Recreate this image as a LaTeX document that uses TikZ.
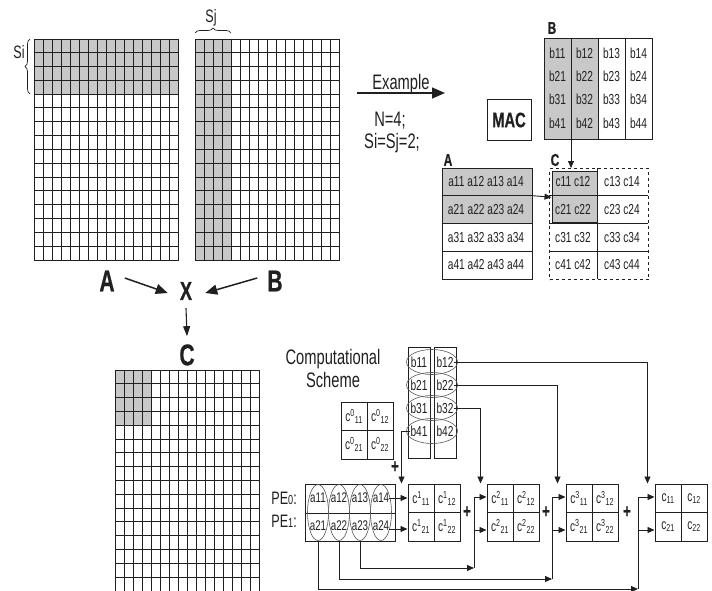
\documentclass[tikz,border=0pt]{standalone}
\usepackage{fontspec}
\setmainfont{Liberation Sans}[FakeStretch=0.7,BoldFeatures={FakeBold=0.6}]
\usetikzlibrary{arrows.meta,positioning,shapes.geometric,decorations.pathreplacing,calc}
\definecolor{ink}{HTML}{202020}
\definecolor{cellgray}{HTML}{C8C8C8}
\newcommand\fs[1]{\fontsize{#1}{#1}\selectfont}
\newcommand\cel[2]{c\textsuperscript{#1}\textsubscript{#2}}
\tikzset{
  cell/.style={draw=ink,line width=1pt,inner sep=0pt},
  gline/.style={ink,line width=1pt},
  big/.style={font=\fs{30}\bfseries,text=ink,inner sep=0pt},
  tag/.style={font=\fs{17}\bfseries,text=ink,inner sep=0pt},
  txt/.style={font=\fontsize{21}{23}\selectfont,text=ink,inner sep=0pt},
  ent/.style={font=\fs{14.5},text=ink,inner sep=0pt},
  sml/.style={font=\fs{14},text=ink,inner sep=0pt},
  fatarr/.style={-{Triangle[length=12pt,width=10pt]},line width=1.5pt,ink},
  arr/.style={-{Triangle[length=7pt,width=6pt]},line width=0.9pt,ink},
  oval/.style={ellipse,draw=ink!75,line width=0.6pt,inner sep=0pt},
  plus/.style={font=\fs{19}\bfseries,text=ink,inner sep=0pt},
  brc/.style={ink,line width=0.7pt,decorate,decoration={brace,amplitude=5pt}}
}
\begin{document}
\begin{tikzpicture}[x=1pt,y=-1pt]
  \useasboundingbox (0,0) rectangle (712,591);
  \fill[cellgray] (34,39) rectangle (178,94.2);
  \fill[cellgray] (195,39) rectangle (231,260);
  \fill[cellgray] (115,370) rectangle (151,425.2);
  \foreach \n/\x/\y in {gA/34/39,gB/195/39,gC/115/370}{
    \node[cell,minimum width=144pt,minimum height=220.8pt,anchor=north west] (\n) at (\x,\y) {};
    \foreach \i in {1,...,15}{
      \draw[gline] (\x+\i*9,\y) -- ++(0,220.8);
      \draw[gline] (\x,\y+\i*13.8) -- ++(144,0);
    }
  }
  \draw[brc] (30,94) -- (30,39);
  \draw[brc] (195,33) -- (231,33);
  \node[txt,font=\fs{18}] (si) at (19,52) {Si};
  \node[txt,font=\fs{18}] (sj) at (211,18) {Sj};

  \node[big] (lA) at (107,281) {A};
  \node[big] (lB) at (275,281) {B};
  \node[big,font=\fs{26}\bfseries] (lX) at (186,291) {X};
  \node[big] (lC) at (187,355) {C};
  \draw[fatarr] ([shift={(10pt,3pt)}]lA.east) -- ([shift={(-12pt,-2pt)}]lX.west);
  \draw[fatarr] ([shift={(-10pt,3pt)}]lB.west) -- ([shift={(13pt,-2pt)}]lX.east);
  \draw[fatarr,line width=1.1pt,-{Triangle[length=10pt,width=7pt]}] ([yshift=-8pt]lX.south) -- ([yshift=8pt]lC.north);

  \coordinate (ex0) at (357,93);
  \coordinate (ex1) at (445,93);
  \draw[fatarr,line width=1.2pt,-{Triangle[length=13pt,width=11pt]}] (ex0) -- (ex1);
  \node[txt] (exl) at (401,84) {Example};
  \node[txt] (nn) at (390,121) {N=4;};
  \node[txt] (ss) at (392,143) {Si=Sj=2;};
  \node[cell,font=\fs{21}\bfseries,text=ink,minimum width=44pt,minimum height=41pt] (mac) at (509,120) {MAC};

  \node[tag] (tB) at (552,28) {B};
  \fill[cellgray] (544,38) rectangle (598,139);
  \node[cell,minimum width=108pt,minimum height=101pt,anchor=north west] (mB) at (544,38) {};
  \foreach \i in {1,2,3} \draw[gline] (544+\i*27,38) -- ++(0,101);
  \foreach \r/\y in {1/53,2/76,3/99,4/123}
    \foreach \c/\x in {1/557.5,2/584.5,3/611.5,4/638.5}
      \node[ent] (sb\r\c) at (\x,\y) {b\r\c};

  \node[tag] (tA) at (448,160) {A};
  \fill[cellgray] (442,168) rectangle (532,223.5);
  \node[cell,minimum width=90pt,minimum height=111pt,anchor=north west] (mA) at (442,168) {};
  \foreach \i in {1,2,3} \draw[gline] (442,168+\i*27.75) -- ++(90,0);
  \foreach \r in {1,...,4}
    \node[ent] (sa\r) at (486,154+\r*27.75) {a\r1 a\r2 a\r3 a\r4};

  \node[tag] (tC) at (555,160) {C};
  \fill[cellgray] (551.5,171) rectangle (596.5,222);
  \node[cell,dashed,minimum width=99pt,minimum height=111pt,anchor=north west] (mC) at (549,168) {};
  \draw[gline] (597,168) -- (597,279);
  \foreach \i in {1,2,3} \draw[gline] (549,168+\i*27.75) -- ++(99,0);
  \node[cell,line width=1.4pt,minimum width=45pt,minimum height=51pt,anchor=north west] (blk) at (551.5,171) {};
  \foreach \r in {1,...,4}{
    \node[ent] (sc\r a) at (573,154+\r*27.75) {c\r1 c\r2};
    \node[ent] (sc\r b) at (622,154+\r*27.75) {c\r3 c\r4};
  }
  \draw[arr] ([xshift=27pt]mB.south west) -- ([xshift=27pt]mB.south west |- mC.north);
  \draw[arr] ([yshift=-27.75pt]mA.north east) -- (blk.west);

  \node[txt,align=center] (cs) at (333,368) {Computational\\Scheme};
  \foreach \n/\x/\y/\s in {c0/367/430.5/0,c1/434/512.5/1,c2/513/512.5/2,c3/592/512.5/3}{
    \node[cell,minimum width=52pt,minimum height=57pt] (\n) at (\x,\y) {};
    \draw[gline] (\n.north) -- (\n.south) (\n.west) -- (\n.east);
    \node[ent] (\n11) at (\x-13,\y-14) {\cel{\s}{11}};
    \node[ent] (\n12) at (\x+13,\y-14) {\cel{\s}{12}};
    \node[ent] (\n21) at (\x-13,\y+14) {\cel{\s}{21}};
    \node[ent] (\n22) at (\x+13,\y+14) {\cel{\s}{22}};
  }
  \node[cell,minimum width=52pt,minimum height=57pt] (cf) at (681,512.5) {};
  \draw[gline] (cf.north) -- (cf.south) (cf.west) -- (cf.east);
  \node[ent] (cf11) at (668,498.5) {c\textsubscript{11}};
  \node[ent] (cf12) at (694,498.5) {c\textsubscript{12}};
  \node[ent] (cf21) at (668,526.5) {c\textsubscript{21}};
  \node[ent] (cf22) at (694,526.5) {c\textsubscript{22}};

  \node[cell,minimum width=22pt,minimum height=111pt,anchor=north west] (bs1) at (408,347) {};
  \node[cell,minimum width=22pt,minimum height=111pt,anchor=north west] (bs2) at (434,347) {};
  \foreach \r/\y in {1/362,2/385,3/408,4/431}{
    \node[ent] (b\r1) at (419,\y) {b\r1};
    \node[ent] (b\r2) at (445,\y) {b\r2};
    \node[oval,minimum width=51pt,minimum height=25pt] (e\r) at (432,\y) {};
  }
  \draw[arr] (b12.east) -| ([xshift=-7pt]cf.north west);
  \draw[arr] (b22.east) -| ([xshift=-8pt]c3.north west);
  \draw[arr] (b32.east) -| ([xshift=-6pt]c2.north west);
  \draw[arr] (b41.west) -| ([xshift=-6pt]c1.north west);
  \node[plus] (p0) at (395,467) {+};

  \node[cell,minimum width=90pt,minimum height=57pt,anchor=north west] (pe) at (305,484) {};
  \draw[gline] (pe.west) -- (pe.east);
  \foreach \c/\x in {1/318,2/339,3/360,4/381}{
    \node[sml] (a1\c) at (\x,498) {a1\c};
    \node[sml] (a2\c) at (\x,526) {a2\c};
    \node[oval,minimum width=21pt,minimum height=56pt] (o\c) at (\x,512.5) {};
  }
  \node[txt,font=\fs{18},anchor=east] (pe0) at (297,498) {PE{\fs{13}0}:};
  \node[txt,font=\fs{18},anchor=east] (pe1) at (297,521) {PE{\fs{13}1}:};
  \draw[arr] (a14.east) -- (a14 -| c1.west);
  \draw[arr] ([yshift=-3pt]a24.east) -- ([yshift=-3pt]a24 -| c1.west);
  \foreach \t/\x/\y/\o in {c2/474/568/o3,c3/552/579/o2,cf/638/589/o1}{
    \coordinate (k\t) at (\x,\y);
    \draw[arr] (\o.south) |- (k\t);
    \draw[gline,line width=0.9pt] (k\t) -- (\x,497);
    \draw[arr] (\x,497) -- (\t.west |- 0,497);
    \draw[arr] (\x,530) -- (\t.west |- 0,530);
  }
  \node[plus] (p1) at (467,512) {+};
  \node[plus] (p2) at (546,512) {+};
  \node[plus] (p3) at (627,512) {+};
\end{tikzpicture}
\end{document}
